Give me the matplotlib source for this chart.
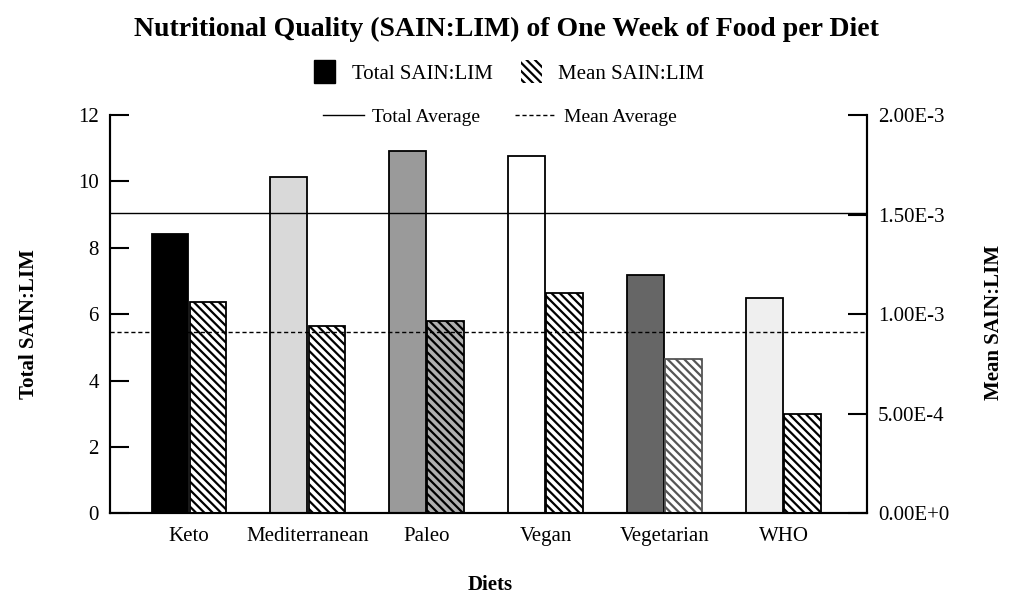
import matplotlib
matplotlib.use("Agg")
import matplotlib.pyplot as plt
from matplotlib.patches import Patch
from matplotlib.lines import Line2D
import numpy as np

plt.rcParams['font.family'] = ['Liberation Serif', 'DejaVu Serif']
plt.rcParams['hatch.linewidth'] = 1.6

diets = ["Keto", "Mediterranean", "Paleo", "Vegan", "Vegetarian", "WHO"]
total_sain_lim = [8.43, 10.14, 10.91, 10.76, 7.18, 6.48]
mean_sain_lim = [1.06e-3, 0.94e-3, 0.967e-3, 1.107e-3, 0.775e-3, 0.50e-3]
total_average = 9.04
mean_average = 0.909e-3
left_ticks = [0, 2, 4, 6, 8, 10, 12]
right_ticks = [0, 5e-4, 1e-3, 1.5e-3, 2e-3]
right_tick_labels = ["0.00E+0", "5.00E-4", "1.00E-3", "1.50E-3", "2.00E-3"]

total_colors = ["#000000", "#d9d9d9", "#9a9a9a", "#ffffff", "#666666", "#efefef"]
mean_faces = ["#ffffff", "#ffffff", "#b0b0b0", "#ffffff", "#ffffff", "#ffffff"]
mean_edges = ["#000000", "#000000", "#000000", "#000000", "#555555", "#000000"]

FS = 15
HATCH = '\\\\\\\\'

fig = plt.figure(figsize=(10.13, 6.06), dpi=100)
ax = fig.add_axes([0.1086, 0.153, 0.7473, 0.657])
ax2 = ax.twinx()

x = np.arange(len(diets))
w = 0.31
off = 0.16
ax.bar(x - off, total_sain_lim, width=w, color=total_colors, edgecolor="black", linewidth=1.3, zorder=2)
for i in range(len(diets)):
    ax2.bar(x[i] + off, mean_sain_lim[i], width=w, color=mean_faces[i], edgecolor=mean_edges[i],
            hatch=HATCH, linewidth=1.3, zorder=2)

ax.axhline(total_average, color="black", linewidth=1.0, zorder=3)
ax2.axhline(mean_average, color="black", linewidth=1.0, linestyle=(0, (3, 2)), zorder=3)

ax.set_xlim(-0.664, 5.70)
ax.set_ylim(0, 12)
ax2.set_ylim(0, 2e-3)
ax.set_yticks(left_ticks)
ax2.set_yticks(right_ticks)
ax2.set_yticklabels(right_tick_labels)
ax.set_xticks(x)
ax.set_xticklabels(diets)

for a in (ax, ax2):
    a.spines['top'].set_visible(False)
    for s in a.spines.values():
        s.set_linewidth(1.5)
ax.tick_params(axis='y', direction='in', length=14, width=1.5, labelsize=FS, pad=8)
ax2.tick_params(axis='y', direction='in', length=14, width=1.5, labelsize=FS, pad=8)
ax.tick_params(axis='x', length=0, labelsize=FS, pad=10)

ax.set_ylabel("Total SAIN:LIM", fontsize=FS, fontweight='bold')
ax.yaxis.set_label_coords(-0.0935, 0.475)
ax2.set_ylabel("Mean SAIN:LIM", fontsize=FS, fontweight='bold')
ax2.yaxis.set_label_coords(1.154, 0.48)
ax.set_xlabel("Diets", fontsize=FS, fontweight='bold')
ax.xaxis.set_label_coords(0.502, -0.155)

fig.suptitle("Nutritional Quality (SAIN:LIM) of One Week of Food per Diet",
             fontsize=20, fontweight='bold', y=0.952, va='center')

h1 = [Patch(facecolor="black", edgecolor="black", label="Total SAIN:LIM"),
      Patch(facecolor="white", edgecolor="black", hatch=HATCH, linewidth=0, label="Mean SAIN:LIM")]
fig.legend(handles=h1, loc='center', bbox_to_anchor=(0.503, 0.881), ncol=2, frameon=False,
           fontsize=FS, handlelength=1.0, handleheight=1.3, handletextpad=0.8, columnspacing=1.35)

h2 = [Line2D([], [], color="black", linewidth=1.0, label="Total Average"),
      Line2D([], [], color="black", linewidth=1.0, linestyle=(0, (3, 2)), label="Mean Average")]
ax2.legend(handles=h2, loc='center', bbox_to_anchor=(0.515, 0.995), ncol=2, frameon=False,
           fontsize=14, handlelength=2.1, handletextpad=0.4, columnspacing=1.8)

fig.savefig("out.png", dpi=100)
